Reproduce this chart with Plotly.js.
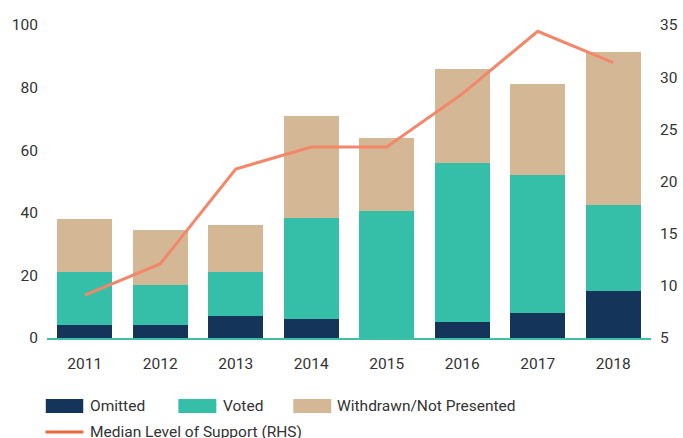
<!DOCTYPE html>
<html>
<head>
<meta charset="utf-8">
<script src="https://cdn.plot.ly/plotly-3.0.1.min.js"></script>
<style>html,body{margin:0;padding:0;background:#fff;}#chart{width:683px;height:438px;}</style>
</head>
<body>
<div id="chart"></div>
<script>
const years = ['2011','2012','2013','2014','2015','2016','2017','2018'];
const omitted = [4, 4, 7, 6, 0, 5, 8, 15];
const voted = [17, 13, 14, 32.5, 40.5, 51, 44, 27.5];
const withdrawn = [17, 17.5, 15, 32.5, 23.5, 30, 29, 49];
const medianSupport = [9.1, 12.1, 21.2, 23.3, 23.3, 28.4, 34.4, 31.4];
const leftTicks = [0, 20, 40, 60, 80, 100];
const rightTicks = [5, 10, 15, 20, 25, 30, 35];
const legendLabels = ['Omitted', 'Voted', 'Withdrawn/Not Presented', 'Median Level of Support (RHS)'];

const FONT = '"Liberation Sans Narrow", "Roboto", sans-serif';
const FS = 15.5;
const cOm = '#14345a', cVo = '#35bea8', cWi = '#d4b795', cLine = '#f4876a', cLeg = '#ea6a40';

const traces = [
  {type:'bar', x:years, y:omitted, name:legendLabels[0], marker:{color:cOm}, hoverinfo:'none'},
  {type:'bar', x:years, y:voted, name:legendLabels[1], marker:{color:cVo}, hoverinfo:'none'},
  {type:'bar', x:years, y:withdrawn, name:legendLabels[2], marker:{color:cWi}, hoverinfo:'none'},
  {type:'scatter', mode:'lines', x:years, y:medianSupport, yaxis:'y2', name:legendLabels[3], line:{color:cLine, width:3}, hoverinfo:'none'}
];

const r1a = -0.195, r1b = -0.2396, r1c = -0.2173, r2 = -0.3003;
const shapes = [
  {type:'rect', xref:'paper', yref:'paper', x0:-0.002, x1:0.060, y0:r1a, y1:r1b, fillcolor:cOm, line:{width:0}},
  {type:'rect', xref:'paper', yref:'paper', x0:0.2175, x1:0.2804, y0:r1a, y1:r1b, fillcolor:cVo, line:{width:0}},
  {type:'rect', xref:'paper', yref:'paper', x0:0.4078, x1:0.4706, y0:r1a, y1:r1b, fillcolor:cWi, line:{width:0}},
  {type:'line', xref:'paper', yref:'paper', x0:-0.0025, x1:0.0604, y0:r2, y1:r2, line:{color:cLeg, width:3}}
];
const annX = [0.068, 0.288, 0.477, 0.068];
const annY = [r1c, r1c, r1c, r2];
const annotations = legendLabels.map((t,i)=>({
  text:t, xref:'paper', yref:'paper', x:annX[i], y:annY[i], xanchor:'left', yanchor:'middle',
  showarrow:false, font:{family:FONT, size:FS, color:'#333'}
}));

const layout = {
  width:683, height:438,
  margin:{l:46.5, r:32, t:25, b:100},
  paper_bgcolor:'#fff', plot_bgcolor:'#fff',
  barmode:'stack', bargap:0.272,
  showlegend:false,
  font:{family:FONT, size:FS, color:'#333'},
  xaxis:{type:'category', showgrid:false, zeroline:false, showline:true, linecolor:'#3cc0a8', linewidth:2,
         ticks:'outside', ticklen:10, tickcolor:'rgba(0,0,0,0)', tickfont:{family:FONT, size:FS, color:'#333'}},
  yaxis:{range:[0,100], tickvals:leftTicks, showgrid:false, zeroline:false, showline:false,
         ticks:'outside', ticklen:5, tickcolor:'rgba(0,0,0,0)', tickfont:{family:FONT, size:FS, color:'#333'}},
  yaxis2:{range:[5,35], tickvals:rightTicks, overlaying:'y', side:'right', showgrid:false, zeroline:false, showline:false,
         ticks:'outside', ticklen:5, tickcolor:'rgba(0,0,0,0)', tickfont:{family:FONT, size:FS, color:'#333'}},
  shapes:shapes, annotations:annotations
};

Plotly.newPlot('chart', traces, layout, {displayModeBar:false, staticPlot:true});
</script>
</body>
</html>
